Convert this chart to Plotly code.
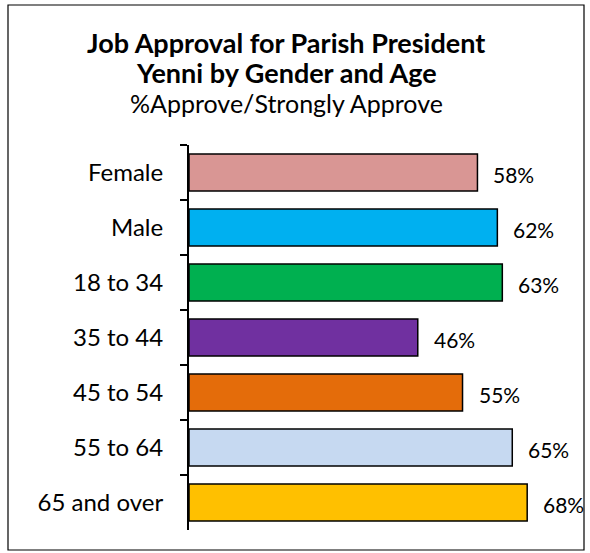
import plotly.graph_objects as go

# Data
groups = ["Female", "Male", "18 to 34", "35 to 44", "45 to 54", "55 to 64", "65 and over"]
approve = [0.58, 0.62, 0.63, 0.46, 0.55, 0.65, 0.68]
colors = ["#D99694", "#00B0F0", "#00B050", "#7030A0", "#E46C0A", "#C6D9F1", "#FFC000"]

W, H = 590, 553
L, R, T, B = 189, 562, 145, 530
XMAX = 0.75
FONT = "Lato, Carlito, 'Open Sans', sans-serif"

fig = go.Figure(
    go.Bar(
        x=approve,
        y=groups,
        orientation="h",
        marker=dict(color=colors, line=dict(color="black", width=1.5)),
        width=0.67,
        hoverinfo="skip",
    )
)

# value labels to the right of each bar
for g, v in zip(groups, approve):
    fig.add_annotation(
        x=v, y=g, xref="x", yref="y",
        text=f"{round(v * 100)}%", showarrow=False,
        xanchor="left", yanchor="middle", xshift=14, yshift=-2,
        font=dict(size=21, color="black", family=FONT),
    )

# helpers converting page pixels to paper coordinates
def px(x):
    return (x - L) / (R - L)

def py(y):
    return (B - y) / (B - T)

# outer frame
fig.add_shape(type="rect", xref="paper", yref="paper",
              x0=px(8), x1=px(584), y0=py(550), y1=py(5),
              line=dict(color="black", width=1.2), fillcolor="rgba(0,0,0,0)")

titles = [
    ("<b>Job Approval for Parish President</b>", 43, 27),
    ("<b>Yenni by Gender and Age</b>", 72, 27),
    ("%Approve/Strongly Approve", 103, 25),
]
for text, ypix, size in titles:
    fig.add_annotation(xref="paper", yref="paper", x=px(286), y=py(ypix),
                       xanchor="center", yanchor="middle",
                       text=text, showarrow=False,
                       font=dict(size=size, color="black", family=FONT))

fig.update_layout(
    width=W, height=H,
    margin=dict(l=L, r=W - R, t=T, b=H - B),
    paper_bgcolor="white", plot_bgcolor="white",
    showlegend=False,
    font=dict(family=FONT, color="black"),
    xaxis=dict(range=[0, XMAX], visible=False, fixedrange=True),
    yaxis=dict(
        autorange="reversed",
        showline=True, linecolor="black", linewidth=2,
        ticks="outside", ticklen=7, tickcolor="black", tickwidth=2,
        tickson="boundaries",
        showgrid=False,
        tickfont=dict(size=24, color="black", family=FONT),
        ticklabelstandoff=19,
    ),
)

fig.write_html("out.html")
